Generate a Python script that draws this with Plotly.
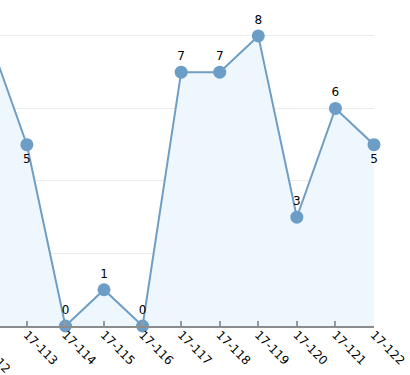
import plotly.graph_objects as go

categories = ["17-112", "17-113", "17-114", "17-115", "17-116", "17-117",
              "17-118", "17-119", "17-120", "17-121", "17-122"]
values = [8, 5, 0, 1, 0, 7, 7, 8, 3, 6, 5]
label_pos = ["top center", "bottom center", "top center", "top center", "top center",
             "top center", "top center", "top center", "top center", "top center",
             "bottom center"]

line_color = "#6f9dc4"
x_idx = list(range(len(categories)))
last = len(categories) - 1
x_range = [0.303, last]

fig = go.Figure()
fig.add_trace(go.Scatter(
    x=x_idx, y=values,
    mode="lines+markers+text",
    line=dict(color=line_color, width=2),
    marker=dict(color="#6b9dc6", size=13),
    fill="tozeroy", fillcolor="#eff7fe",
    text=[str(v) for v in values], textposition=label_pos,
    textfont=dict(family="DejaVu Sans", size=12, color="#000000"),
    cliponaxis=False, showlegend=False, hoverinfo="skip",
))
fig.add_shape(type="line", xref="x", yref="y", x0=last, x1=last, y0=0, y1=values[last],
              line=dict(color=line_color, width=2), layer="below")

# first category's label lies left of the visible range; place it in paper coords
frac0 = (x_idx[0] - x_range[0]) / (x_range[1] - x_range[0])
fig.add_annotation(
    x=frac0, y=0, xref="paper", yref="paper", text=categories[0],
    textangle=45, showarrow=False, xanchor="left", yanchor="top",
    font=dict(family="DejaVu Sans", size=12, color="#000000"),
    xshift=-18, yshift=-7,
)

fig.update_layout(
    width=410, height=375,
    margin=dict(l=0, r=36, t=0, b=49, autoexpand=False),
    paper_bgcolor="white", plot_bgcolor="white",
    xaxis=dict(
        range=x_range, tickmode="array", automargin=False,
        tickvals=x_idx, ticktext=categories,
        tickangle=45, ticks="inside", ticklen=5, tickwidth=2, tickcolor="#999999",
        showline=True, linecolor="#8c8c8c", linewidth=2, showgrid=False, zeroline=False,
        tickfont=dict(family="DejaVu Sans", size=12, color="#000000"),
        ticklabelstandoff=-5,
    ),
    yaxis=dict(
        range=[0, 8.99], dtick=2, showticklabels=False, showgrid=True, automargin=False,
        gridcolor="#ebebeb", gridwidth=1, zeroline=False, showline=False,
    ),
)
fig.write_html("out.html", config={"displayModeBar": False},
               post_script="document.body.style.margin='0';document.body.style.overflow='hidden';")
